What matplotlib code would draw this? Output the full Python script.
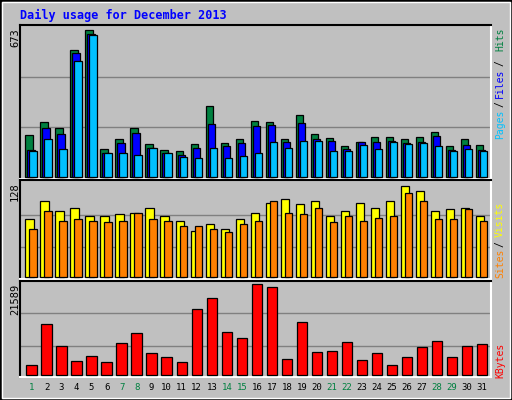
"""Webalizer-style daily usage chart for December 2013."""

import matplotlib
matplotlib.use("Agg")
import matplotlib.pyplot as plt
from matplotlib.patches import Rectangle

days = list(range(1, 32))
weekend_days = [1, 7, 8, 14, 15, 21, 22, 28, 29]

hits = [190, 253, 222, 582, 673, 129, 175, 225, 152, 125, 116, 152, 326, 157, 171,
        257, 253, 171, 285, 198, 180, 143, 161, 184, 184, 171, 184, 207, 143, 171, 148]
files = [125, 225, 198, 568, 655, 110, 157, 203, 134, 111, 102, 134, 244, 143, 157,
         234, 239, 161, 248, 171, 166, 129, 161, 161, 166, 157, 161, 189, 125, 148, 125]
pages = [120, 175, 129, 531, 650, 111, 107, 102, 134, 107, 93, 84, 134, 88, 97,
         111, 161, 134, 166, 166, 116, 116, 148, 129, 161, 152, 157, 143, 120, 129, 116]
visits = [82, 107, 93, 97, 85, 86, 88, 90, 97, 86, 79, 65, 75, 68, 82,
          90, 104, 110, 102, 107, 86, 93, 104, 97, 107, 128, 120, 93, 96, 97, 86]
sites = [68, 92, 79, 82, 78, 77, 79, 90, 82, 79, 72, 72, 68, 63, 74,
         78, 106, 90, 89, 97, 77, 86, 79, 83, 86, 118, 107, 82, 82, 95, 79]
kbytes = [2443, 12134, 6934, 3388, 4570, 3152, 7643, 10007, 5279, 4334, 3152, 15680,
          18280, 10243, 8825, 21589, 20880, 3861, 12607, 5515, 5752, 7879, 3624, 5279,
          2443, 4334, 6697, 8116, 4334, 6934, 7406]

BG = "#C0C0C0"
GREEN = "#008040"
W, H = 512, 400
SLOT = 15.02  # pixels per day
MONO = "DejaVu Sans Mono"

fig = plt.figure(figsize=(W / 100, H / 100), dpi=100, facecolor=BG)

# outer frame
fig.add_artist(Rectangle((0, 0), 1, 1, transform=fig.transFigure,
                         fill=False, edgecolor="black", linewidth=2))
fig.add_artist(Rectangle((2 / W, 2 / H), 1 - 4 / W, 1 - 4 / H,
                         transform=fig.transFigure, fill=False,
                         edgecolor="white", linewidth=1))


def make_axes(top, bottom):
    ax = fig.add_axes([20 / W, 1 - bottom / H, 471 / W, (bottom - top) / H])
    ax.set_facecolor(BG)
    ax.set_xlim(1 - 11.5 / SLOT, 1 + (491 - 31.5) / SLOT)
    ax.set_xticks([])
    ax.set_yticks([])
    for side in ("top", "left"):
        ax.spines[side].set_color("black")
    for side in ("bottom", "right"):
        ax.spines[side].set_color("white")
    for s in ax.spines.values():
        s.set_linewidth(1.5)
    return ax


def px(p):
    return p / SLOT


def bars(ax, vals, offset, width, color):
    ax.bar([d + px(offset) for d in days], vals, width=px(width), align="edge",
           color=color, edgecolor="black", linewidth=0.9, zorder=3)


# top panel: hits / files / pages
ax1 = make_axes(25, 179)
bars(ax1, hits, -6.2, 7.4, GREEN)
bars(ax1, files, -4.2, 7.4, "#0000FF")
bars(ax1, pages, -2.2, 7.4, "#00C0FF")
ax1.set_ylim(-673 * 2.2 / 146, 673 * (151.7 / 146.7))
for f in (0.34, 0.68):
    ax1.axhline(673 * f, color="#808080", linewidth=1, zorder=1)

# middle panel: visits / sites
ax2 = make_axes(180, 279)
bars(ax2, visits, -6.2, 8.4, "#FFFF00")
bars(ax2, sites, -2.2, 7.4, "#FF8000")
ax2.set_ylim(-128 * 1.7 / 92, 128 * (97.7 / 92))
for f in (0.326, 0.685):
    ax2.axhline(128 * f, color="#808080", linewidth=1, zorder=1)

# bottom panel: kbytes
ax3 = make_axes(281, 377)
bars(ax3, kbytes, -5.2, 10.4, "#FF0000")
ax3.set_ylim(-21589 * 1.7 / 91.3, 21589 * (94.7 / 91.3))
for f in (0.32, 0.68):
    ax3.axhline(21589 * f, color="#808080", linewidth=1, zorder=1)


def ftext(x, y, s, **kw):
    fig.text(x / W, 1 - y / H, s, family=MONO, **kw)


ftext(20, 15, "Daily usage for December 2013", color="#0000FF",
      fontsize=8.5, fontweight="bold", va="center", ha="left")

# max labels on the left
ftext(15, 28, "673", rotation=90, fontsize=7.5, va="top", ha="center")
ftext(15, 182, "128", rotation=90, fontsize=7.5, va="top", ha="center")
ftext(15, 284, "21589", rotation=90, fontsize=7.5, va="top", ha="center")

# right side legends (bottom to top)
right = [
    (124, "Pages", "#00C0FF"), (104, "/", "black"), (83, "Files", "#0000FF"),
    (63, "/", "black"), (39, "Hits", GREEN),
    (263, "Sites", "#FF8000"), (244, "/", "black"), (219, "Visits", "#FFFF00"),
    (360, "KBytes", "#FF0000"),
]
for y, s, c in right:
    ftext(500, y, s, rotation=90, color=c, fontsize=7,
          va="center", ha="center")

# day labels
for d in days:
    x = 31.5 + (d - 1) * SLOT
    ftext(x, 388, str(d), color=GREEN if d in weekend_days else "black",
          fontsize=6.5, ha="center", va="center")

fig.savefig("out.png", dpi=100, facecolor=BG)
